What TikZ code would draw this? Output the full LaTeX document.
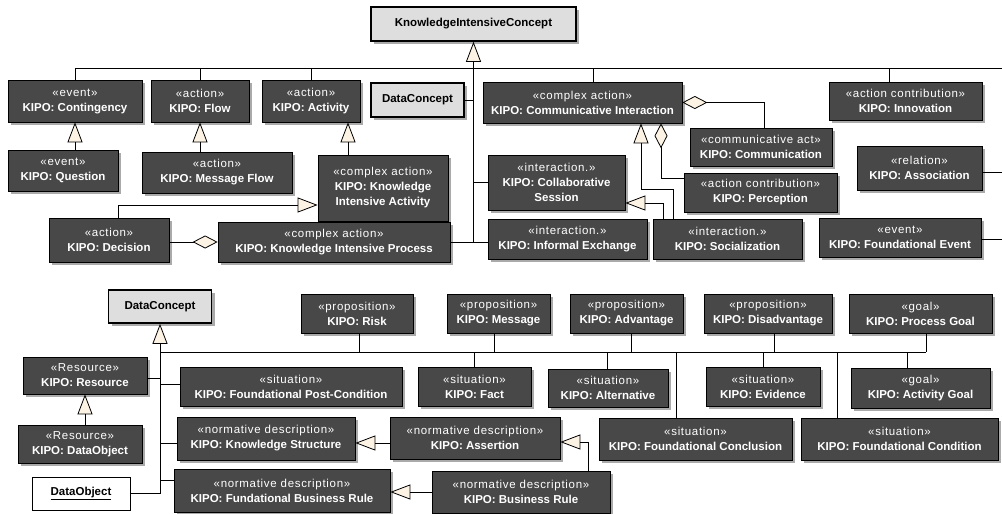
\documentclass[tikz,border=0pt]{standalone}
\usepackage{fontspec}
\setmainfont{Liberation Sans}
\newfontfamily\stfont[LetterSpace=6]{Liberation Sans}
\usetikzlibrary{arrows.meta,shadows}
\definecolor{boxgray}{RGB}{72,72,72}
\definecolor{lightbox}{RGB}{222,222,222}
\definecolor{ucream}{RGB}{253,243,228}
\definecolor{shadowgray}{RGB}{170,170,170}
\newcommand\kfont{\fontsize{11.5}{15}\selectfont}
\newcommand\kb[7]{\node[kbox,minimum width=#4pt,minimum height=#5pt] (#1) at (#2,#3) {{\stfont #6}\\\textbf{#7}};}
\begin{document}
\begin{tikzpicture}[x=1pt,y=-1pt,
  kbox/.style={draw=black, line width=0.7pt, fill=boxgray, text=white, font=\kfont, align=center, inner sep=0pt,
    drop shadow={shadow xshift=3pt,shadow yshift=-3pt,fill=shadowgray,opacity=1}},
  lbox/.style={draw=black, line width=1.6pt, fill=lightbox, text=black, font=\kfont\bfseries, align=center, inner sep=0pt,
    drop shadow={shadow xshift=3pt,shadow yshift=-3pt,fill=shadowgray,opacity=1}},
  wbox/.style={draw=black, line width=0.8pt, fill=white, text=black, font=\kfont\bfseries, inner sep=0pt},
  conn/.style={draw=black, line width=0.8pt},
  gen/.style={conn, -{Triangle[length=20pt,width=15pt,fill=ucream,line width=0.8pt]}},
  agg/.style={conn, {Diamond[length=25pt,width=13pt,fill=ucream,line width=0.8pt]}-}]
\useasboundingbox (0,0) rectangle (1002,514);
% ---------- top part ----------
\node[lbox,minimum width=205pt,minimum height=34pt] (kic) at (473.5,24) {KnowledgeIntensiveConcept};
\kb{contingency}{75}{101}{134}{42}{«event»}{KIPO: Contingency}
\kb{flow}{200}{101}{98}{42}{«action»}{KIPO: Flow}
\kb{activity}{311}{101}{98}{42}{«action»}{KIPO: Activity}
\node[lbox,minimum width=93pt,minimum height=34pt] (dca) at (417.5,100) {DataConcept};
\kb{ci}{582.5}{102.5}{199}{41}{«complex action»}{KIPO: Communicative Interaction}
\kb{innov}{905.5}{101}{153}{38}{«action contribution»}{KIPO: Innovation}
\kb{question}{63}{170.5}{110}{41}{«event»}{KIPO: Question}
\kb{msgflow}{217}{172.5}{150}{41}{«action»}{KIPO: Message Flow}
\node[kbox,minimum width=130pt,minimum height=66pt] (kia) at (383,188) {{\stfont «complex action»}\\\textbf{KIPO: Knowledge}\\\textbf{Intensive Activity}};
\kb{decision}{109}{240}{120}{44}{«action»}{KIPO: Decision}
\kb{kip}{334}{242}{232}{40}{«complex action»}{KIPO: Knowledge Intensive Process}
\node[kbox,minimum width=137pt,minimum height=55pt] (collab) at (556.5,182.5) {{\stfont «interaction.»}\\\textbf{KIPO: Collaborative}\\\textbf{Session}};
\kb{informal}{567.5}{239}{159}{40}{«interaction.»}{KIPO: Informal Exchange}
\kb{social}{727.5}{239}{149}{40}{«interaction.»}{KIPO: Socialization}
\kb{commu}{761}{147}{142}{38}{«communicative act»}{KIPO: Communication}
\kb{percep}{760.5}{192.5}{153}{39}{«action contribution»}{KIPO: Perception}
\kb{assoc}{919.5}{168}{125}{44}{«relation»}{KIPO: Association}
\kb{fevent}{900}{237.5}{162}{39}{«event»}{KIPO: Foundational Event}
% ---------- bottom part ----------
\node[lbox,minimum width=103pt,minimum height=33pt] (dcb) at (160,306.5) {DataConcept};
\node[wbox,minimum width=98pt,minimum height=33pt] (dobj) at (81,493.5) {\underline{DataObject}};
\kb{resource}{85}{375.5}{124}{37}{«Resource»}{KIPO: Resource}
\kb{kdobj}{80}{444}{124}{38}{«Resource»}{KIPO: DataObject}
\kb{fpc}{291}{386.5}{222}{39}{«situation»}{KIPO: Foundational Post-Condition}
\kb{kstruct}{266}{438.5}{178}{43}{«normative description»}{KIPO: Knowledge Structure}
\kb{fbr}{282}{490.5}{216}{43}{«normative description»}{KIPO: Fundational Business Rule}
\kb{risk}{357}{313.5}{112}{39}{«proposition»}{KIPO: Risk}
\kb{message}{498.5}{313.5}{103}{39}{«proposition»}{KIPO: Message}
\kb{fact}{474.5}{386.5}{113}{39}{«situation»}{KIPO: Fact}
\kb{assertion}{475}{438}{170}{42}{«normative description»}{KIPO: Assertion}
\kb{brule}{521}{492}{178}{42}{«normative description»}{KIPO: Business Rule}
\kb{advantage}{626.5}{313.5}{113}{39}{«proposition»}{KIPO: Advantage}
\kb{disadv}{768}{313.5}{128}{39}{«proposition»}{KIPO: Disadvantage}
\kb{pgoal}{920.5}{313.5}{143}{39}{«goal»}{KIPO: Process Goal}
\kb{altern}{608}{388}{120}{38}{«situation»}{KIPO: Alternative}
\kb{evidence}{763}{386.5}{114}{39}{«situation»}{KIPO: Evidence}
\kb{agoal}{920.5}{388}{139}{40}{«goal»}{KIPO: Activity Goal}
\kb{fconcl}{695.5}{439}{193}{42}{«situation»}{KIPO: Foundational Conclusion}
\kb{fcond}{899.5}{439}{197}{42}{«situation»}{KIPO: Foundational Condition}
% ---------- coordinates ----------
\coordinate (tbL) at (75,68);
\coordinate (tbR) at (1002,68);
\coordinate (kicv) at (473.5,242);
\coordinate (cig) at (641,189);
\coordinate (bbL) at (160,352);
\coordinate (bbR) at (926,352);
% ---------- top connectors ----------
\draw[conn] (tbL) -- (tbR);
\draw[gen] (kicv) -- (kic.south);
\draw[conn] (contingency.north) -- (contingency.north |- tbL);
\draw[conn] (flow.north) -- (flow.north |- tbL);
\draw[conn] (activity.north) -- (activity.north |- tbL);
\draw[conn] ([xshift=10.5pt]ci.north) -- ([xshift=10.5pt]ci.north |- tbL);
\draw[conn] ([xshift=-16.5pt]innov.north) -- ([xshift=-16.5pt]innov.north |- tbL);
\draw[conn] (dca.east) -- (dca.east -| kicv);
\draw[conn] (collab.west) -- (collab.west -| kicv);
\draw[conn] (kip.east) -- (informal.west |- kip.east);
\draw[gen] (question.north -| contingency.south) -- (contingency.south);
\draw[gen] (msgflow.north -| flow.south) -- (flow.south);
\draw[gen] ([xshift=-35pt]kia.north) -- ([xshift=-35pt]kia.north |- activity.south);
\draw[gen] ([xshift=9pt]decision.north) |- ([yshift=-17pt]kia.west);
\draw[agg] (kip.west) -- (kip.west -| decision.east);
\draw[gen] ([xshift=-54.5pt]social.north) |- (cig) -- (cig |- ci.south);
\draw[gen] ([xshift=-64.5pt]social.north) |- ([yshift=-20.5pt]collab.east);
\draw[agg] ([xshift=78.5pt]ci.south) |- ([yshift=14pt]percep.west);
\draw[agg] (ci.east) -| ([xshift=3pt]commu.north);
\draw[conn] ([yshift=-4pt]assoc.east) -- ([yshift=-4pt]assoc.east -| tbR);
\draw[conn] ([yshift=-2pt]fevent.east) -- ([yshift=-2pt]fevent.east -| tbR);
% ---------- bottom connectors ----------
\draw[conn] (bbL) -- (bbR);
\draw[gen] (dobj.east -| dcb.south) -- (dcb.south);
\draw[conn] (dobj.east) -- (dobj.east -| dcb.south);
\draw[conn] ([yshift=-2.5pt]resource.east) -- ([yshift=-2.5pt]resource.east -| dcb.south);
\draw[conn] ([yshift=2.5pt]fpc.west) -- ([yshift=2.5pt]fpc.west -| dcb.south);
\draw[conn] ([yshift=-4.5pt]kstruct.west) -- ([yshift=-4.5pt]kstruct.west -| dcb.south);
\draw[conn] ([yshift=10.5pt]fbr.west) -- ([yshift=10.5pt]fbr.west -| dcb.south);
\draw[gen] (kdobj.north -| resource.south) -- (resource.south);
\draw[gen] ([yshift=-5pt]assertion.west) -- ([yshift=-5pt]assertion.west -| kstruct.east);
\draw[gen] (brule.west) -- (brule.west -| fbr.east);
\draw[gen] ([xshift=67pt]brule.north) |- ([yshift=-4pt]assertion.east);
\foreach \n/\d in {risk/2,message/-4.5,advantage/4.5,disadv/6,pgoal/5.5}
  \draw[conn] ([xshift=\d pt]\n.south) -- ([xshift=\d pt]\n.south |- bbL);
\foreach \n/\d in {fact/0,altern/-1,evidence/0,agoal/-13.5,fconcl/-19.5,fcond/-62.5}
  \draw[conn] ([xshift=\d pt]\n.north) -- ([xshift=\d pt]\n.north |- bbL);
\end{tikzpicture}
\end{document}
